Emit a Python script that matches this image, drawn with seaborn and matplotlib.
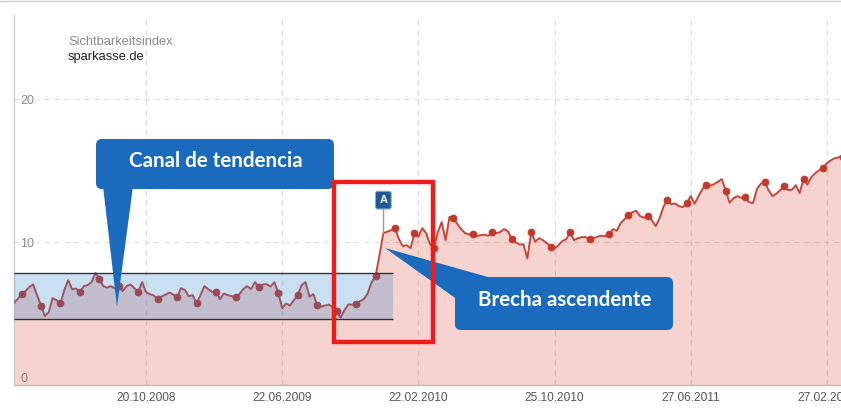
import numpy as np
import pandas as pd
import matplotlib
matplotlib.use("Agg")
import matplotlib.pyplot as plt
import seaborn as sns
from matplotlib.patches import FancyBboxPatch, Polygon, Rectangle
from matplotlib.lines import Line2D
from matplotlib.transforms import Affine2D

# ---------------- data ----------------
start_date = "2008-02-25"          # first weekly value
values = [
    5.73, 6.01, 6.34, 6.57, 6.85, 7.04, 6.29, 5.55, 4.83, 5.10,
    6.08, 5.94, 5.71, 6.64, 7.34, 6.71, 6.75, 6.52, 6.92, 6.99,
    7.20, 7.83, 7.45, 6.92, 6.82, 6.92, 6.76, 6.92, 6.57, 6.92,
    7.04, 6.78, 6.52, 7.20, 6.50, 6.36, 6.26, 6.01, 6.19, 6.33,
    6.47, 6.33, 6.17, 6.78, 6.64, 6.22, 6.29, 5.71, 6.29, 6.92,
    6.71, 6.52, 6.52, 6.01, 6.40, 6.29, 6.22, 6.13, 6.36, 6.71,
    6.92, 6.71, 7.20, 6.87, 7.03, 7.06, 6.89, 7.20, 6.43, 5.38,
    5.70, 5.56, 5.94, 6.29, 6.99, 7.20, 6.19, 6.36, 5.59, 5.49,
    5.56, 5.63, 5.45, 5.17, 4.72, 5.24, 5.64, 5.63, 5.66, 5.87,
    6.01, 6.43, 7.20, 7.62, 9.09, 10.63, 10.73, 10.84, 10.96, 10.21,
    9.72, 9.79, 9.58, 10.63, 10.37, 10.98, 10.63, 9.86, 9.62, 10.70,
    11.40, 10.14, 11.78, 11.66, 11.29, 10.91, 10.63, 10.54, 10.54, 10.42,
    10.49, 10.52, 10.45, 10.68, 10.63, 10.70, 10.91, 10.77, 10.21, 10.00,
    9.83, 9.86, 8.86, 10.70, 10.03, 10.28, 10.14, 9.93, 9.67, 9.55,
    9.79, 10.07, 10.21, 10.68, 10.14, 10.28, 10.35, 10.35, 10.19, 10.28,
    10.38, 10.45, 10.42, 10.54, 10.91, 10.80, 11.33, 11.61, 11.89, 12.10,
    12.20, 11.82, 11.71, 11.82, 11.54, 11.12, 11.68, 12.48, 12.94, 12.66,
    12.71, 12.52, 12.45, 12.75, 13.22, 12.69, 13.22, 13.71, 14.03, 13.95,
    14.06, 14.23, 14.41, 13.60, 12.76, 13.08, 13.22, 13.10, 13.13, 12.80,
    12.73, 13.71, 14.09, 14.20, 13.64, 13.22, 13.39, 13.64, 13.92, 13.64,
    13.67, 13.99, 13.43, 14.45, 14.02, 14.55, 14.83, 15.03, 15.22, 15.52,
    15.73, 15.87, 15.94, 15.98,
]
tick_labels = ["20.10.2008", "22.06.2009", "22.02.2010",
               "25.10.2010", "27.06.2011", "27.02.2012"]
y_ticks = [0, 10, 20]
channel_low, channel_high = 4.6, 7.85
channel_end = "2010-01-07"
event_label = "A"
event_index = 95
title_line1 = "Sichtbarkeitsindex"
title_line2 = "sparkasse.de"
callout1 = "Canal de tendencia"
callout2 = "Brecha ascendente"

# ---------------- setup ----------------
sns.set_theme(style="white")
plt.rcParams["font.family"] = ["Liberation Sans", "DejaVu Sans"]

W, H = 841, 411
fig = plt.figure(figsize=(W / 100, H / 100), dpi=100)
ax = fig.add_axes([14 / W, 26 / H, 827 / W, 370 / H])

dates = pd.date_range(start_date, periods=len(values), freq="7D")
df = pd.DataFrame({"date": dates, "value": values})
start = pd.Timestamp(start_date)
x_left = start + pd.Timedelta(days=0.5)
x_right = x_left + pd.Timedelta(days=1487.8)

# grid
ax.set_axisbelow(True)
ax.grid(True, linestyle=(0, (4, 4)), color="#dcdcdc", linewidth=0.9)

# area + line
ax.fill_between(df["date"], 0, df["value"], color="#e0483b", alpha=0.24,
                lw=0, zorder=2)
marks = list(range(2, 58, 5)) + list(range(63, len(values), 5))
sns.lineplot(data=df, x="date", y="value", ax=ax, color="#c4473b", lw=1.4,
             marker="o", markersize=4.8, markevery=marks,
             markerfacecolor="#c0392b", markeredgecolor="#c0392b",
             zorder=3, legend=False)

# channel
ch_end = pd.Timestamp(channel_end)
ax.fill_between([x_left, ch_end], channel_low, channel_high,
                color="#2880cc", alpha=0.25, lw=0, zorder=4)
ax.hlines([channel_low, channel_high], x_left, ch_end, color="#333333",
          lw=1.0, zorder=5)

# event flag
ev_x = dates[event_index]
ax.plot([ev_x, ev_x], [values[event_index], 12.4], color="#9a9a9a", lw=1,
        zorder=5)
ax.text(ev_x, 12.94, event_label, ha="center", va="center", color="white",
        fontsize=8, fontweight="bold", zorder=6,
        bbox=dict(boxstyle="round,pad=0.35,rounding_size=0.2",
                  fc="#1d5b96", ec="#8fb0d0", lw=0.8))

# axes limits & ticks
ax.set_xlim(x_left, x_right)
ax.set_ylim(0, 25.9)
ax.set_xticks(pd.to_datetime(tick_labels, format="%d.%m.%Y"))
ax.set_xticklabels(tick_labels)
ax.set_yticks(y_ticks)
ax.set_yticklabels([str(t) for t in y_ticks])
ax.set_xlabel("")
ax.set_ylabel("")
ax.tick_params(axis="x", length=0, pad=5, labelsize=8.6, labelcolor="#555555")
ax.tick_params(axis="y", length=0, pad=-4.5, labelsize=9, labelcolor="#888888")
for lbl in ax.get_yticklabels():
    lbl.set_ha("left")
    if lbl.get_text() == "0":
        lbl.set_va("bottom")
    else:
        lbl.set_bbox(dict(facecolor="white", edgecolor="none", pad=1))

for s in ["top", "right"]:
    ax.spines[s].set_visible(False)
ax.spines["left"].set_color("#cccccc")
ax.spines["bottom"].set_color("#bbbbbb")
ax.spines["left"].set_linewidth(1)
ax.spines["bottom"].set_linewidth(1)

# ---------------- annotations (pixel layout) ----------------
T = Affine2D().scale(1, -1).translate(0, H) + Affine2D().scale(1 / 100) + fig.dpi_scale_trans
blue = "#1a6bbd"

fig.add_artist(Line2D([0, W], [1.5, 1.5], color="#d0d0d0", lw=1, transform=T))

fig.text(68 / W, 1 - 42 / H, title_line1, fontsize=9.3, color="#8a8a8a",
         va="center", ha="left")
fig.text(68 / W, 1 - 57 / H, title_line2, fontsize=9.3, color="#222222",
         va="center", ha="left")

# callout 1
fig.add_artist(Polygon([(103, 186), (133, 186), (117, 307)], closed=True,
                       fc=blue, ec="none", transform=T, zorder=3))
fig.add_artist(FancyBboxPatch((96, 139), 238, 50,
                              boxstyle="round,pad=0,rounding_size=6",
                              fc=blue, ec="none", transform=T, zorder=3))
fig.text(216 / W, 1 - 161 / H, callout1, fontsize=14.8, fontweight="bold",
         color="white", ha="center", va="center", family="Lato", zorder=4)

# callout 2
fig.add_artist(Polygon([(385, 248), (495, 279), (458, 300)], closed=True,
                       fc=blue, ec="none", transform=T, zorder=3))
fig.add_artist(FancyBboxPatch((455, 277), 218, 53,
                              boxstyle="round,pad=0,rounding_size=6",
                              fc=blue, ec="none", transform=T, zorder=3))
fig.text(565 / W, 1 - 300 / H, callout2, fontsize=14.8, fontweight="bold",
         color="white", ha="center", va="center", family="Lato", zorder=4)

# red highlight box
fig.add_artist(Rectangle((334, 182), 98.5, 160, fill=False, ec="#ee1c1c",
                         lw=3.2, transform=T, zorder=5))

fig.savefig("out.png", dpi=100)
